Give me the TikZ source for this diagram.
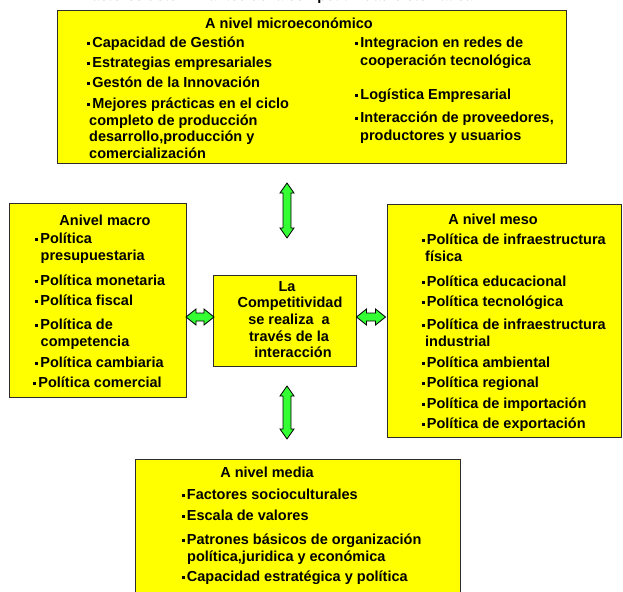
\documentclass[tikz,border=0pt]{standalone}
\usepackage{fontspec}
\setmainfont{Liberation Sans}
\usetikzlibrary{calc}
\definecolor{boxyellow}{RGB}{255,255,0}
\definecolor{arrowgreen}{RGB}{51,255,51}
\definecolor{boxborder}{RGB}{45,45,45}
\newcommand\bul{\rule[2.6pt]{3.2pt}{3.2pt}\hspace{2pt}}
\newcommand\vdarrow[2]{%
  \path[garrow] let \p1=(#1), \p2=(#2) in
    (\x1,\y1) -- (\x1+7pt,\y1-10pt) -- (\x1+4pt,\y1-10pt) -- (\x1+4pt,\y2+10pt)
    -- (\x1+7pt,\y2+10pt) -- (\x1,\y2) -- (\x1-7pt,\y2+10pt) -- (\x1-4pt,\y2+10pt)
    -- (\x1-4pt,\y1-10pt) -- (\x1-7pt,\y1-10pt) -- cycle;}
\newcommand\hdarrow[2]{%
  \path[garrow] let \p1=(#1), \p2=(#2) in
    (\x1,\y1) -- (\x1+10pt,\y1+8pt) -- (\x1+10pt,\y1+4pt) -- (\x2-10pt,\y1+4pt)
    -- (\x2-10pt,\y1+8pt) -- (\x2,\y1) -- (\x2-10pt,\y1-8pt) -- (\x2-10pt,\y1-4pt)
    -- (\x1+10pt,\y1-4pt) -- (\x1+10pt,\y1-8pt) -- cycle;}
\begin{document}
\begin{tikzpicture}[x=1pt,y=-1pt,
  font=\fontsize{14.5}{16}\selectfont\bfseries,
  lvlbox/.style={draw=boxborder, line width=1.2pt, fill=boxyellow, inner sep=0pt, anchor=north west},
  txt/.style={anchor=base west, inner sep=0pt},
  ttl/.style={anchor=base, inner sep=0pt},
  garrow/.style={fill=arrowgreen, draw=black, line width=0.8pt, line join=miter}]
\useasboundingbox (0,0) rectangle (623,591);
\fill[white] (0,0) rectangle (623,591);

% heading, cut off at the top edge as in the reference
\node[ttl] (head) at (278,1) {Factores determinantes de la competitividad sistemática};

% boxes
\node[lvlbox, minimum width=509pt, minimum height=153pt] (micro) at (57,10) {};
\node[lvlbox, minimum width=177pt, minimum height=194pt] (macro) at (9,203) {};
\node[lvlbox, minimum width=234pt, minimum height=233pt] (meso) at (387,204) {};
\node[lvlbox, minimum width=143pt, minimum height=91pt] (center) at (213,275) {};
\node[lvlbox, minimum width=325pt, minimum height=150pt] (media) at (135,459) {};

% micro
\node[ttl] (mit) at (289,29) {A nivel microeconómico};
\node[txt] (mi1) at (87,47.5) {\bul Capacidad de Gestión};
\node[txt] (mi2) at (87,67.5) {\bul Estrategias empresariales};
\node[txt] (mi3) at (87,87.5) {\bul Gestón de la Innovación};
\node[txt] (mi4) at (87,109) {\bul Mejores prácticas en el ciclo};
\node[txt] (mi4b) at (89,125.5) {completo de producción};
\node[txt] (mi4c) at (89,141.5) {desarrollo,producción y};
\node[txt] (mi4d) at (89,158) {comercialización};
\node[txt] (mi5) at (355,47.5) {\bul Integracion en redes de};
\node[txt] (mi5b) at (360,66) {cooperación tecnológica};
\node[txt] (mi6) at (355,99.5) {\bul Logística Empresarial};
\node[txt] (mi7) at (355,122.5) {\bul Interacción de proveedores,};
\node[txt] (mi7b) at (360,140.5) {productores y usuarios};

% macro
\node[ttl] (mat) at (105,225.5) {Anivel macro};
\node[txt] (ma1) at (35,243.5) {\bul Política};
\node[txt] (ma1b) at (40.5,260.5) {presupuestaria};
\node[txt] (ma2) at (35,285.5) {\bul Política monetaria};
\node[txt] (ma3) at (35,305.5) {\bul Política fiscal};
\node[txt] (ma4) at (35,329.5) {\bul Política de};
\node[txt] (ma4b) at (40.5,346.5) {competencia};
\node[txt] (ma5) at (35,367.5) {\bul Política cambiaria};
\node[txt] (ma6) at (33,387.5) {\bul Política comercial};

% meso
\node[ttl] (met) at (493,224.5) {A nivel meso};
\node[txt] (me1) at (421.5,244.5) {\bul Política de infraestructura};
\node[txt] (me1b) at (425,261.5) {física};
\node[txt] (me2) at (421.5,286.5) {\bul Política educacional};
\node[txt] (me3) at (421.5,306.5) {\bul Política tecnológica};
\node[txt] (me4) at (421.5,329.5) {\bul Política de infraestructura};
\node[txt] (me4b) at (425,346.5) {industrial};
\node[txt] (me5) at (421.5,367.5) {\bul Política ambiental};
\node[txt] (me6) at (421.5,387.5) {\bul Política regional};
\node[txt] (me7) at (421.5,408.5) {\bul Política de importación};
\node[txt] (me8) at (421.5,428.5) {\bul Política de exportación};

% centre
\node[ttl] (c1) at (287,291.5) {La};
\node[ttl] (c2) at (290,307.5) {Competitividad};
\node[ttl] (c3) at (289,324.5) {se realiza \ a};
\node[ttl] (c4) at (289,341.5) {través de la};
\node[ttl] (c5) at (293,357.5) {interacción};

% media
\node[ttl] (mdt) at (267,477.5) {A nivel media};
\node[txt] (md1) at (181.5,499.5) {\bul Factores socioculturales};
\node[txt] (md2) at (181.5,520.5) {\bul Escala de valores};
\node[txt] (md3) at (181.5,544.5) {\bul Patrones básicos de organización};
\node[txt] (md3b) at (187,561.5) {política,juridica y económica};
\node[txt] (md4) at (181.5,581.5) {\bul Capacidad estratégica y política};

% arrows
\coordinate (upA) at (287,183);
\coordinate (upB) at (287,238);
\coordinate (dnA) at (287,386);
\coordinate (dnB) at (287,439);
\coordinate (ltA) at (186,317);
\coordinate (ltB) at (214,317);
\coordinate (rtA) at (356.5,317);
\coordinate (rtB) at (385.5,317);
\vdarrow{upA}{upB}
\vdarrow{dnA}{dnB}
\hdarrow{ltA}{ltB}
\hdarrow{rtA}{rtB}
\end{tikzpicture}
\end{document}
